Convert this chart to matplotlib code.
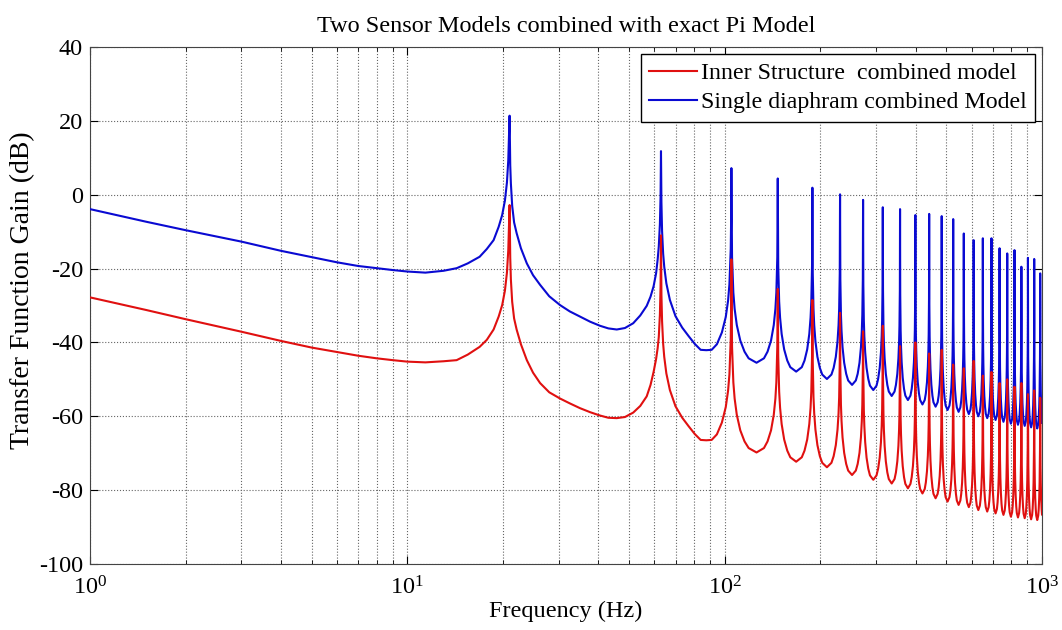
import matplotlib
matplotlib.use("Agg")
import matplotlib.pyplot as plt
from matplotlib.ticker import LogLocator, NullFormatter

plt.rcParams["font.family"] = ["Liberation Serif", "DejaVu Serif"]
plt.rcParams["mathtext.fontset"] = "stix"
plt.rcParams["axes.unicode_minus"] = False

# values (Hz, dB), one row per stretch between resonances
freq_hz = [
    1, 1.5, 2, 3, 4, 5, 6, 7, 8, 9, 10, 11.4, 13, 14.3, 15.5, 16.9, 17.8, 18.7, 19.4, 19.9, 20.3, 20.6, 20.8, 20.9, 21,
    21.1, 21.2, 21.4, 21.7, 22.1, 22.8, 23.8, 24.9, 26.2, 28, 30.3, 32.5, 35, 37.7, 40.5, 43, 45.7, 48.5, 51.5, 54.2,
    56.8, 58.4, 59.7, 60.8, 61.5, 62.0, 62.5, 62.8, 63,
    63.2, 63.5, 64.0, 64.5, 65.5, 67.2, 70, 73.5, 77, 80.5, 84, 87.5, 91, 94.5, 98, 100.8, 102.5, 103.5, 104.5, 104.8, 105,
    105.5, 106.5, 107.5, 109.2, 112, 115.5, 119, 126, 133, 136.5, 140, 142.8, 144.5, 145.5, 146.5, 147,
    147.5, 148.5, 149.5, 151.2, 154, 157.5, 161, 168, 175, 178.5, 182, 184.8, 186.5, 187.5, 188.5, 189,
    189.5, 190.5, 191.5, 193.2, 196, 199.5, 203, 210, 217, 220.5, 224, 226.8, 228.5, 229.5, 230.5, 231,
    231.5, 232.5, 233.5, 235.2, 238, 241.5, 245, 252, 259, 262.5, 266, 268.8, 270.5, 271.5, 272.5, 273,
    273.5, 274.5, 275.5, 277.2, 280, 283.5, 287, 294, 301, 304.5, 308, 310.8, 312.5, 313.5, 314.5, 315,
    315.5, 316.5, 317.5, 319.2, 322, 325.5, 329, 336, 343, 346.5, 350, 352.8, 354.5, 355.5, 356.5, 357,
    357.5, 358.5, 359.5, 361.2, 364, 367.5, 371, 378, 385, 388.5, 392, 394.8, 396.5, 397.5, 398.5, 399,
    399.5, 400.5, 401.5, 403.2, 406, 409.5, 413, 420, 427, 430.5, 434, 436.8, 438.5, 439.5, 440.5, 441,
    441.5, 442.5, 443.5, 445.2, 448, 451.5, 455, 462, 469, 472.5, 476, 478.8, 480.5, 481.5, 482.5, 483,
    483.5, 484.5, 485.5, 487.2, 490, 493.5, 497, 504, 511, 514.5, 518, 520.8, 522.5, 523.5, 524.5, 525,
    525.5, 526.5, 527.5, 529.2, 532, 535.5, 539, 546, 553, 556.5, 560, 562.8, 564.5, 565.5, 566.5, 567,
    567.5, 568.5, 569.5, 571.2, 574, 577.5, 581, 588, 595, 598.5, 602, 604.8, 606.5, 607.5, 608.5, 609,
    609.5, 610.5, 611.5, 613.2, 616, 619.5, 623, 630, 637, 640.5, 644, 646.8, 648.5, 649.5, 650.5, 651,
    651.5, 652.5, 653.5, 655.2, 658, 661.5, 665, 672, 679, 682.5, 686, 688.8, 690.5, 691.5, 692.5, 693,
    693.5, 694.5, 695.5, 697.2, 700, 703.5, 707, 714, 721, 724.5, 728, 730.8, 732.5, 733.5, 734.5, 735,
    735.5, 736.5, 737.5, 739.2, 742, 745.5, 749, 756, 763, 766.5, 770, 772.8, 774.5, 775.5, 776.5, 777,
    777.5, 778.5, 779.5, 781.2, 784, 787.5, 791, 798, 805, 808.5, 812, 814.8, 816.5, 817.5, 818.5, 819,
    819.5, 820.5, 821.5, 823.2, 826, 829.5, 833, 840, 847, 850.5, 854, 856.8, 858.5, 859.5, 860.5, 861,
    861.5, 862.5, 863.5, 865.2, 868, 871.5, 875, 882, 889, 892.5, 896, 898.8, 900.5, 901.5, 902.5, 903,
    903.5, 904.5, 905.5, 907.2, 910, 913.5, 917, 924, 931, 934.5, 938, 940.8, 942.5, 943.5, 944.5, 945,
    945.5, 946.5, 947.5, 949.2, 952, 955.5, 959, 966, 973, 976.5, 980, 982.8, 984.5, 985.5, 986.5, 987,
    987.5, 988.5, 989.5, 991.2, 994, 997.5, 1000,
]

inner_db = [
    -27.8, -31.2, -33.7, -37.1, -39.6, -41.4, -42.6, -43.6, -44.3, -44.8, -45.2, -45.4, -45.1, -44.8, -43.3, -41.2, -39.3, -36.5, -33.0, -29.9, -26.0, -21.1, -15.1, -9.1, -2.8,
    -17, -23, -29, -33.5, -36.5, -40.5, -44.8, -48.2, -51.0, -53.5, -55.2, -56.5, -57.8, -58.9, -59.8, -60.4, -60.5, -60.2, -59.0, -57.2,
    -54.6, -51.5, -48.0, -44.5, -41.5, -38.5, -32.5, -25, -11,
    -27, -34.3, -40.4, -43.9, -48.4, -52.9, -57.3, -60.4, -62.7, -64.8, -66.4, -66.5, -66.4, -64.9, -61.7, -57.5, -53.1, -48.7, -39.1, -31.2, -17.5,
    -41.2, -50.8, -55.2, -59.6, -63.8, -66.8, -68.6, -69.8, -68.6, -66.8, -63.8, -59.6, -55.2, -50.8, -41.2, -25.5,
    -43.7, -53.3, -57.7, -62.1, -66.3, -69.3, -71.1, -72.3, -71.1, -69.3, -66.3, -62.1, -57.7, -53.3, -43.7, -28.5,
    -45.2, -54.8, -59.2, -63.6, -67.8, -70.8, -72.6, -73.8, -72.6, -70.8, -67.8, -63.6, -59.2, -54.8, -45.2, -32,
    -47.3, -56.9, -61.3, -65.7, -69.9, -72.9, -74.7, -75.9, -74.7, -72.9, -69.9, -65.7, -61.3, -56.9, -47.3, -37,
    -48.6, -58.2, -62.6, -67.0, -71.2, -74.2, -76.0, -77.2, -76.0, -74.2, -71.2, -67.0, -62.6, -58.2, -48.6, -35.5,
    -49.6, -59.2, -63.6, -68.0, -72.2, -75.2, -77.0, -78.2, -77.0, -75.2, -72.2, -68.0, -63.6, -59.2, -49.6, -41,
    -50.9, -60.5, -64.9, -69.3, -73.5, -76.5, -78.3, -79.5, -78.3, -76.5, -73.5, -69.3, -64.9, -60.5, -50.9, -40,
    -52.3, -61.9, -66.3, -70.7, -74.9, -77.9, -79.7, -80.9, -79.7, -77.9, -74.9, -70.7, -66.3, -61.9, -52.3, -43,
    -53.6, -63.2, -67.6, -72.0, -76.2, -79.2, -81.0, -82.2, -81.0, -79.2, -76.2, -72.0, -67.6, -63.2, -53.6, -42,
    -54.5, -64.1, -68.5, -72.9, -77.1, -80.1, -81.9, -83.1, -81.9, -80.1, -77.1, -72.9, -68.5, -64.1, -54.5, -46,
    -55.4, -65.0, -69.4, -73.8, -78.0, -81.0, -82.8, -84.0, -82.8, -81.0, -78.0, -73.8, -69.4, -65.0, -55.4, -47,
    -56.0, -65.6, -70.0, -74.4, -78.6, -81.6, -83.4, -84.6, -83.4, -81.6, -78.6, -74.4, -70.0, -65.6, -56.0, -45,
    -56.8, -66.4, -70.8, -75.2, -79.4, -82.4, -84.2, -85.4, -84.2, -82.4, -79.4, -75.2, -70.8, -66.4, -56.8, -49,
    -57.2, -66.8, -71.2, -75.6, -79.8, -82.8, -84.6, -85.8, -84.6, -82.8, -79.8, -75.6, -71.2, -66.8, -57.2, -48,
    -57.7, -67.3, -71.7, -76.1, -80.3, -83.3, -85.1, -86.3, -85.1, -83.3, -80.3, -76.1, -71.7, -67.3, -57.7, -51,
    -58.1, -67.7, -72.1, -76.5, -80.7, -83.7, -85.5, -86.7, -85.5, -83.7, -80.7, -76.5, -72.1, -67.7, -58.1, -50,
    -58.6, -68.2, -72.6, -77.0, -81.2, -84.2, -86.0, -87.2, -86.0, -84.2, -81.2, -77.0, -72.6, -68.2, -58.6, -52,
    -58.8, -68.4, -72.8, -77.2, -81.4, -84.4, -86.2, -87.4, -86.2, -84.4, -81.4, -77.2, -72.8, -68.4, -58.8, -51,
    -59.0, -68.6, -73.0, -77.4, -81.6, -84.6, -86.4, -87.6, -86.4, -84.6, -81.6, -77.4, -73.0, -68.6, -59.0, -54,
    -59.3, -68.9, -73.3, -77.7, -81.9, -84.9, -86.7, -87.9, -86.7, -84.9, -81.9, -77.7, -73.3, -68.9, -59.3, -53,
    -59.5, -69.1, -73.5, -77.9, -82.1, -85.1, -86.9, -88.1, -86.9, -85.1, -82.1, -77.9, -73.5, -69.1, -59.5, -55,
    -59.7, -69.3, -73.7, -78.1, -82.3, -85.3, -86.6,
]

single_db = [
    -3.9, -7.3, -9.6, -12.7, -15.2, -16.9, -18.3, -19.3, -19.9, -20.4, -20.8, -21.1, -20.6, -19.9, -18.6, -16.8, -14.7, -12.3, -8.7, -5.5, -1.6, 3.3, 9.3, 15.3, 21.4,
    8, 3, -3, -7.5, -10.4, -14.5, -18.6, -21.8, -24.4, -27.5, -29.9, -31.6, -33.0, -34.4, -35.5, -36.2, -36.5, -36.1, -34.8, -32.7,
    -30.1, -27.6, -24.8, -21.3, -17.5, -14, -8, -0.5, 11.8,
    -2, -9.9, -16, -19.5, -24, -28.5, -32.9, -36.0, -38.3, -40.4, -42.0, -42.1, -42.0, -40.5, -37.3, -33.1, -28.7, -24.3, -14.7, -6.8, 7.2,
    -16.9, -26.5, -30.9, -35.3, -39.5, -42.5, -44.3, -45.5, -44.3, -42.5, -39.5, -35.3, -30.9, -26.5, -16.9, 4.4,
    -19.3, -28.9, -33.3, -37.7, -41.9, -44.9, -46.7, -47.9, -46.7, -44.9, -41.9, -37.7, -33.3, -28.9, -19.3, 1.9,
    -21.3, -30.9, -35.3, -39.7, -43.9, -46.9, -48.7, -49.9, -48.7, -46.9, -43.9, -39.7, -35.3, -30.9, -21.3, 0.1,
    -22.9, -32.5, -36.9, -41.3, -45.5, -48.5, -50.3, -51.5, -50.3, -48.5, -45.5, -41.3, -36.9, -32.5, -22.9, -1.4,
    -24.3, -33.9, -38.3, -42.7, -46.9, -49.9, -51.7, -52.9, -51.7, -49.9, -46.9, -42.7, -38.3, -33.9, -24.3, -3.4,
    -25.9, -35.5, -39.9, -44.3, -48.5, -51.5, -53.3, -54.5, -53.3, -51.5, -48.5, -44.3, -39.9, -35.5, -25.9, -3.9,
    -27.0, -36.6, -41.0, -45.4, -49.6, -52.6, -54.4, -55.6, -54.4, -52.6, -49.6, -45.4, -41.0, -36.6, -27.0, -5.5,
    -28.2, -37.8, -42.2, -46.6, -50.8, -53.8, -55.6, -56.8, -55.6, -53.8, -50.8, -46.6, -42.2, -37.8, -28.2, -5.2,
    -28.8, -38.4, -42.8, -47.2, -51.4, -54.4, -56.2, -57.4, -56.2, -54.4, -51.4, -47.2, -42.8, -38.4, -28.8, -5.8,
    -29.7, -39.3, -43.7, -48.1, -52.3, -55.3, -57.1, -58.3, -57.1, -55.3, -52.3, -48.1, -43.7, -39.3, -29.7, -6.6,
    -30.2, -39.8, -44.2, -48.6, -52.8, -55.8, -57.6, -58.8, -57.6, -55.8, -52.8, -48.6, -44.2, -39.8, -30.2, -10.5,
    -30.8, -40.4, -44.8, -49.2, -53.4, -56.4, -58.2, -59.4, -58.2, -56.4, -53.4, -49.2, -44.8, -40.4, -30.8, -12.3,
    -31.4, -41.0, -45.4, -49.8, -54.0, -57.0, -58.8, -60.0, -58.8, -57.0, -54.0, -49.8, -45.4, -41.0, -31.4, -11.8,
    -31.9, -41.5, -45.9, -50.3, -54.5, -57.5, -59.3, -60.5, -59.3, -57.5, -54.5, -50.3, -45.9, -41.5, -31.9, -11.8,
    -32.4, -42.0, -46.4, -50.8, -55.0, -58.0, -59.8, -61.0, -59.8, -58.0, -55.0, -50.8, -46.4, -42.0, -32.4, -14.5,
    -32.9, -42.5, -46.9, -51.3, -55.5, -58.5, -60.3, -61.5, -60.3, -58.5, -55.5, -51.3, -46.9, -42.5, -32.9, -15.9,
    -33.4, -43.0, -47.4, -51.8, -56.0, -59.0, -60.8, -62.0, -60.8, -59.0, -56.0, -51.8, -47.4, -43.0, -33.4, -15.0,
    -33.7, -43.3, -47.7, -52.1, -56.3, -59.3, -61.1, -62.3, -61.1, -59.3, -56.3, -52.1, -47.7, -43.3, -33.7, -19.5,
    -34.0, -43.6, -48.0, -52.4, -56.6, -59.6, -61.4, -62.6, -61.4, -59.6, -56.6, -52.4, -48.0, -43.6, -34.0, -17.1,
    -34.4, -44.0, -48.4, -52.8, -57.0, -60.0, -61.8, -63.0, -61.8, -60.0, -57.0, -52.8, -48.4, -44.0, -34.4, -17.4,
    -34.7, -44.3, -48.7, -53.1, -57.3, -60.3, -62.1, -63.3, -62.1, -60.3, -57.3, -53.1, -48.7, -44.3, -34.7, -21.3,
    -34.9, -44.5, -48.9, -53.3, -57.5, -60.5, -61.8,
]

yticks = [-100, -80, -60, -40, -20, 0, 20, 40]

fig = plt.figure(figsize=(10.62, 6.30), dpi=100)
ax = fig.add_axes([90 / 1062, 1 - 564 / 630, 952 / 1062, 517 / 630])

ax.semilogx(freq_hz, single_db, color="#0a0ad2", lw=1.5, zorder=3,
            label="Single diaphram combined Model")
ax.semilogx(freq_hz, inner_db, color="#e01010", lw=1.5, zorder=4,
            label="Inner Structure  combined model")

ax.set_xlim(1, 1000)
ax.set_ylim(-100, 40)
ax.set_yticks(yticks)
ax.xaxis.set_minor_locator(LogLocator(base=10, subs=range(2, 10)))
ax.xaxis.set_minor_formatter(NullFormatter())

ax.grid(True, which="both", axis="x", ls=":", color="#666666", lw=0.8)
ax.grid(True, which="major", axis="y", ls=":", color="#666666", lw=0.8)
ax.tick_params(which="both", direction="in", top=True, right=True,
               labelsize=17.5, colors="black")
ax.tick_params(which="major", length=6)
ax.tick_params(which="minor", length=3)
ax.tick_params(axis="x", pad=9)
ax.tick_params(axis="y", pad=5)
for s in ax.spines.values():
    s.set_color("#444444")

ax.set_title("Two Sensor Models combined with exact Pi Model", fontsize=17.5, pad=11)
ax.set_xlabel("Frequency (Hz)", fontsize=17.5, labelpad=1)
ax.set_ylabel("Transfer Function Gain (dB)", fontsize=20)
ax.yaxis.set_label_coords(-0.058, 0.53)

h, l = ax.get_legend_handles_labels()
leg = ax.legend(h[::-1], l[::-1], loc="upper right", fontsize=17.2,
                frameon=True, fancybox=False, framealpha=1, edgecolor="black",
                borderaxespad=0.3, handlelength=2.0, handletextpad=0.15,
                borderpad=0.35, labelspacing=0.3)
leg.get_frame().set_linewidth(1.0)

fig.savefig("out.png", dpi=100)
